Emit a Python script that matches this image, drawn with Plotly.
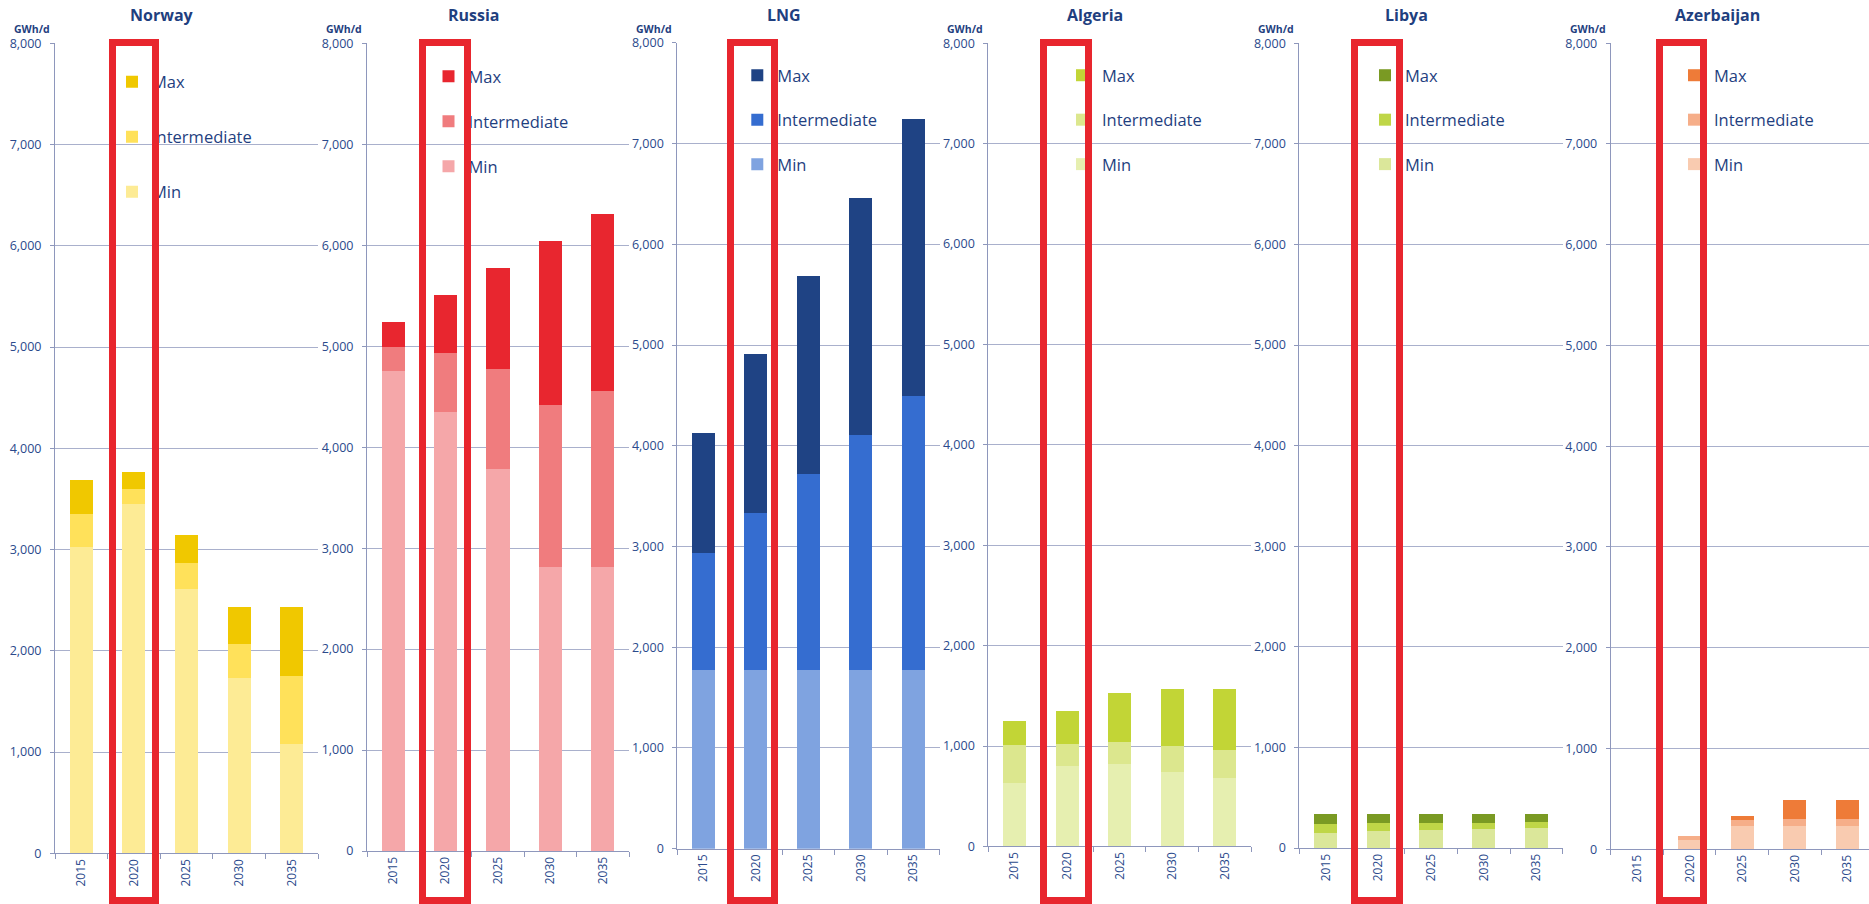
import plotly.graph_objects as go

W, H = 1869, 904

years = ["2015", "2020", "2025", "2030", "2035"]
countries = ["Norway", "Russia", "LNG", "Algeria", "Libya", "Azerbaijan"]
scenarios = ["Min", "Intermediate", "Max"]

# cumulative supply levels, GWh/d
norway_min = [3030, 3450, 2610, 1730, 1080]
norway_int = [3350, 3600, 2870, 2070, 1750]
norway_max = [3690, 3770, 3140, 2430, 2430]

russia_min = [4750, 4350, 3780, 2810, 2810]
russia_int = [4990, 4930, 4770, 4420, 4560]
russia_max = [5240, 5510, 5780, 6040, 6310]

lng_min = [1770, 1770, 1770, 1770, 1770]
lng_int = [2940, 3330, 3720, 4110, 4490]
lng_max = [4130, 4910, 5690, 6460, 7240]

algeria_min = [630, 800, 820, 740, 680]
algeria_int = [1010, 1020, 1040, 1000, 960]
algeria_max = [1250, 1350, 1530, 1570, 1570]

libya_min = [150, 170, 180, 190, 200]
libya_int = [240, 250, 250, 250, 260]
libya_max = [340, 340, 340, 340, 340]

azer_min = [0, 90, 230, 230, 230]
azer_int = [0, 130, 290, 300, 300]
azer_max = [0, 130, 330, 490, 490]

levels = [
    (norway_min, norway_int, norway_max),
    (russia_min, russia_int, russia_max),
    (lng_min, lng_int, lng_max),
    (algeria_min, algeria_int, algeria_max),
    (libya_min, libya_int, libya_max),
    (azer_min, azer_int, azer_max),
]

# style: colors Min, Intermediate, Max
colors = [
    ("#FDEB95", "#FFE15A", "#F0C800"),
    ("#F5A7A9", "#F07C7E", "#E8262F"),
    ("#7FA3E0", "#356DD0", "#1F4384"),
    ("#E6EFB0", "#DCE78E", "#C2D536"),
    ("#DBE79A", "#BFD647", "#7A9A23"),
    ("#F9CBB0", "#F6AE89", "#EE7B38"),
]

# layout geometry (pixels): axis left, plot right, y of zero, y of 8000
geom = [
    dict(l=55, r=318, y0=853.3, y8=43.3, xmax=4.5, leg=(135, 81.5), gap=55, rect=(109, 159)),
    dict(l=367, r=629, y0=851, y8=43.4, xmax=4.5, leg=(451.5, 76), gap=45, rect=(419, 471)),
    dict(l=677.3, r=939.5, y0=848.7, y8=42.8, xmax=4.5, leg=(760.3, 75), gap=44.5, rect=(726.7, 777.7)),
    dict(l=988.3, r=1251, y0=846.4, y8=43.2, xmax=4.5, leg=(1085, 75), gap=44.5, rect=(1040, 1092.3)),
    dict(l=1299.3, r=1562.7, y0=848, y8=43.2, xmax=4.5, leg=(1388, 75), gap=44.5, rect=(1350.7, 1402.7)),
    dict(l=1610.7, r=1869, y0=849.2, y8=43.2, xmax=4.41, leg=(1697, 75), gap=44.5, rect=(1656, 1707.3)),
]

TXT = "#1F3F7F"
TICK = "#2B4A8C"
GRID = "#A9B0CC"
AXL = "#8E97BC"
RED = "#E8262E"
FONT = "Open Sans"

fig = go.Figure()

layout = dict(
    width=W, height=H, autosize=False,
    margin=dict(l=0, r=0, t=0, b=0, pad=0, autoexpand=False),
    paper_bgcolor="white", plot_bgcolor="white",
    barmode="stack", bargap=0.56,
    font=dict(family=FONT, color=TICK),
    annotations=[],
)

for i, (name, lv, cols, g) in enumerate(zip(countries, levels, colors, geom)):
    n = "" if i == 0 else str(i + 1)
    xa, ya = "x" + n, "y" + n
    legname = "legend" + n
    mn, it, mx = lv
    segs = [
        list(mn),
        [b - a for a, b in zip(mn, it)],
        [b - a for a, b in zip(it, mx)],
    ]
    for s, (sc, vals, col) in enumerate(zip(scenarios, segs, cols)):
        fig.add_trace(go.Bar(
            x=years, y=vals, name=sc, marker=dict(color=col, line=dict(width=0)),
            xaxis=xa, yaxis=ya, legend=legname, legendgroup=f"{name}-{sc}",
            legendrank=3 - s,
            hovertemplate=f"{name} %{{x}} {sc}: %{{y}}<extra></extra>",
        ))
    dom_x = [g["l"] / W, g["r"] / W]
    dom_y = [1 - g["y0"] / H, 1 - g["y8"] / H]
    layout["xaxis" + n] = dict(
        domain=dom_x, anchor=ya, type="category", range=[-0.5, g["xmax"]],
        showline=True, linecolor=AXL, linewidth=1, ticks="outside", tickson="boundaries",
        ticklen=5, tickcolor=AXL, tickangle=-90, showgrid=False,
        tickfont=dict(family=FONT, size=12, color=TICK), fixedrange=True,
    )
    layout["yaxis" + n] = dict(
        domain=dom_y, anchor=xa, range=[0, 8000], dtick=1000, tickformat=",d",
        showline=True, linecolor=AXL, linewidth=1, ticks="outside", ticklen=4,
        tickcolor=AXL, showgrid=True, gridcolor=GRID, gridwidth=1, zeroline=False,
        tickfont=dict(family=FONT, size=12.5, color=TICK), ticklabelstandoff=6,
        fixedrange=True,
    )
    lx, ly = g["leg"]
    layout[legname] = dict(
        x=(lx - 23) / W, y=1 - (ly - 17) / H, xanchor="left", yanchor="top",
        bgcolor="rgba(0,0,0,0)", borderwidth=0,
        font=dict(family=FONT, size=16.5, color=TXT),
        traceorder="grouped", tracegroupgap=g["gap"] - 24.5,
    )
    # title
    layout["annotations"].append(dict(
        text=f"<b>{name}</b>", xref="paper", yref="paper",
        x=(g["l"] + 107) / W, y=1 - 15 / H, xanchor="center", yanchor="middle",
        showarrow=False, font=dict(family=FONT, size=16, color=TXT),
    ))
    # unit
    layout["annotations"].append(dict(
        text="<b>GWh/d</b>", xref="paper", yref="paper",
        x=(g["l"] - 3) / W, y=1 - 29 / H, xanchor="right", yanchor="middle",
        showarrow=False, font=dict(family=FONT, size=10.5, color=TXT),
    ))
    # red highlight frame around 2020
    bw = 7
    L, R = g["rect"]
    T, B = 38.5, 903.5
    layout["annotations"].append(dict(
        text=" ", xref="paper", yref="paper",
        x=L / W, y=1 - T / H, xanchor="left", yanchor="top",
        width=(R - L) - 2 * bw, height=(B - T) - 2 * bw,
        borderwidth=bw, borderpad=0, bordercolor=RED, bgcolor="rgba(0,0,0,0)",
        showarrow=False, font=dict(size=2),
    ))

fig.update_layout(**layout)
fig.write_html("out.html", config={"displayModeBar": False})
